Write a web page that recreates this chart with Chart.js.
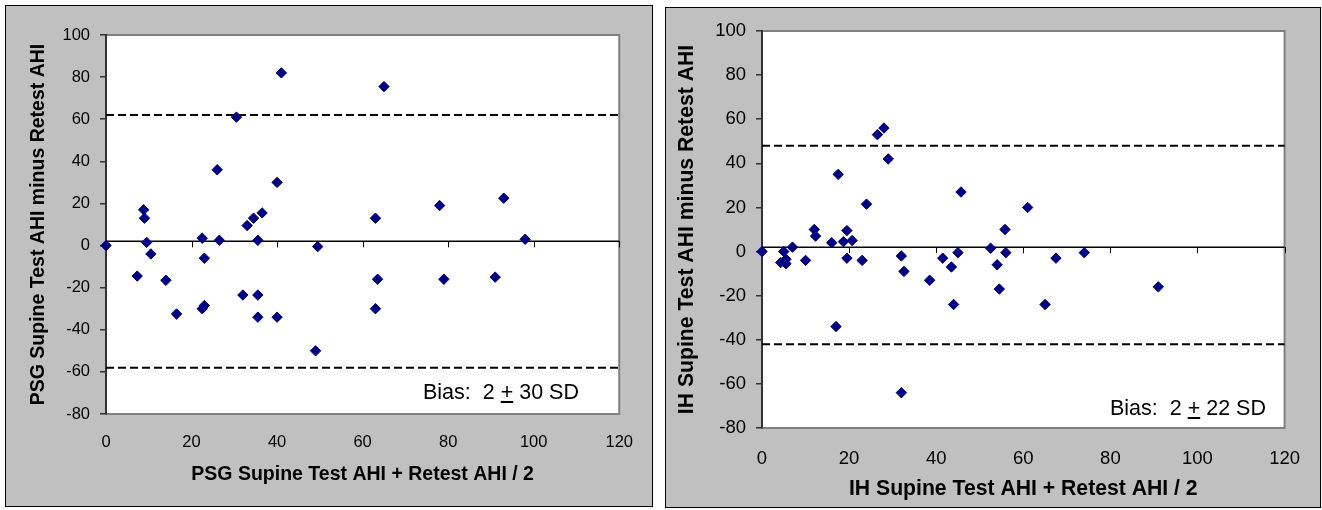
<!DOCTYPE html>
<html>
<head>
<meta charset="utf-8">
<script src="https://cdn.jsdelivr.net/npm/chart.js@4/dist/chart.umd.min.js"></script>
<style>
  body { margin: 0; background: #fff; width: 1322px; height: 510px; position: relative; overflow: hidden; }
  .panel { position: absolute; box-sizing: border-box; border: 1px solid #000; background: #c0c0c0; }
  .panel canvas { position: absolute; left: 0; top: 0; }
  .bias { position: absolute; font: 21.5px 'Liberation Sans', Arial, sans-serif; line-height: 1; white-space: pre; color: #000; }
</style>
</head>
<body>
<div class="panel" style="left:5px; top:5px; width:648px; height:502px;">
  <canvas id="psgChart" width="646" height="500"></canvas>
</div>
<div class="bias" style="left:423px; top:382px;">Bias:  2 <u>+</u> 30 SD</div>

<div class="panel" style="left:665px; top:7px; width:656px; height:501px;">
  <canvas id="ihChart" width="654" height="499"></canvas>
</div>
<div class="bias" style="left:1110px; top:398px;">Bias:  2 <u>+</u> 22 SD</div>

<script>
// axis ticks (same on both panels)
const xTicks = [0, 20, 40, 60, 80, 100, 120];
const yTicks = [-80, -60, -40, -20, 0, 20, 40, 60, 80, 100];

// PSG supine: mean of test/retest vs difference
const psgMean = [0, 41, 65, 30.5, 26, 40, 8.8, 9, 9.5, 10.5, 7.3, 14, 16.5, 22.5, 23, 22.5, 23, 26.5,
  33, 34.5, 36.5, 35.5, 32, 35.5, 35.5, 40, 49.5, 49, 63, 63.5, 63, 78, 79, 91, 93, 98];
const psgDiff = [0, 82, 75.5, 61, 36, 30, 17, 13, 1.5, -4, -14.5, -16.5, -32.5, 3.5, -6, -30, -28.5, 2.5,
  9.5, 13, 15.5, 2.5, -23.5, -23.5, -34, -34, -0.5, -50, 13, -16, -30, 19, -16, -15, 22.5, 3];
const psgBias = 2;
const psgLimits = [62, -58];

// IH supine
const ihMean = [0, 4.3, 5, 5.5, 5.5, 7, 10, 12, 12.3, 17.5, 16, 17, 18.7, 19.5, 19.5, 20.7, 23, 24,
  26.5, 28, 29, 32, 32.6, 32, 38.5, 41.5, 43.5, 44, 45, 45.7, 52.5, 54, 54.5, 55.8, 56, 61, 65, 67.5, 74, 91];
const ihDiff = [0, -5, 0, -3.5, -5.5, 2, -4, 10, 7, 35, 4, -34, 4.5, 9.5, -3, 5, -4, 21.5,
  53, 56, 42, -2, -9, -64, -13, -3, -7, -24, -0.5, 27, 1.5, -6, -17, 10, -0.5, 20, -24, -3, -0.5, -16];
const ihBias = 2;
const ihLimits = [48, -42];

Chart.defaults.font.family = "'Liberation Sans', Arial, sans-serif";
Chart.defaults.color = '#000';

const plotFrame = {
  id: 'plotFrame',
  beforeDraw(chart) {
    const a = chart.chartArea, c = chart.ctx;
    c.save();
    c.fillStyle = '#fff';
    c.fillRect(a.left, a.top, a.right - a.left, a.bottom - a.top);
    c.strokeStyle = '#808080';
    c.lineWidth = 2;
    c.strokeRect(a.left, a.top, a.right - a.left, a.bottom - a.top);
    c.restore();
  },
  beforeDatasetsDraw(chart, args, opts) {
    // excel style: the x axis crosses at the bias, ticks hang below it
    const x = chart.scales.x, y = chart.scales.y, c = chart.ctx;
    const yp = y.getPixelForValue(opts.crossAt);
    c.save();
    c.strokeStyle = '#000';
    c.lineWidth = 1;
    x.ticks.forEach(t => {
      if (t.value === xTicks[0]) return;
      const xp = Math.round(x.getPixelForValue(t.value)) + 0.5;
      c.beginPath();
      c.moveTo(xp, yp);
      c.lineTo(xp, yp + 6);
      c.stroke();
    });
    c.restore();
  }
};

function hline(value, dash) {
  return {
    type: 'line',
    data: [{x: xTicks[0], y: value}, {x: xTicks[xTicks.length - 1], y: value}],
    borderColor: '#000',
    borderWidth: dash ? 2 : 1.5,
    borderDash: dash ? [8, 4] : [],
    pointRadius: 0,
    clip: false
  };
}

function makeChart(id, means, diffs, bias, limits, lay) {
  const ctx = document.getElementById(id).getContext('2d');
  return new Chart(ctx, {
    type: 'scatter',
    data: {
      datasets: [
        {
          data: means.map((m, i) => ({x: m, y: diffs[i]})),
          pointStyle: 'rectRot',
          pointRadius: 5.2,
          backgroundColor: '#000080',
          borderColor: '#000080',
          borderWidth: 1,
          clip: false
        },
        hline(bias, false),
        hline(limits[0], true),
        hline(limits[1], true)
      ]
    },
    options: {
      responsive: false,
      animation: false,
      layout: { padding: lay.padding },
      plugins: {
        legend: { display: false },
        tooltip: { enabled: false },
        plotFrame: { crossAt: bias }
      },
      scales: {
        x: {
          type: 'linear',
          min: xTicks[0],
          max: xTicks[xTicks.length - 1],
          afterBuildTicks: s => { s.ticks = xTicks.map(v => ({value: v})); },
          afterFit: s => { s.height = lay.xHeight; },
          grid: { display: false, drawTicks: false },
          border: { display: false },
          ticks: { font: { size: lay.tickSize }, padding: lay.xTickPad, maxRotation: 0 },
          title: {
            display: true,
            text: lay.xTitle,
            font: { size: lay.titleSize, weight: 'bold', lineHeight: 1.2 },
            padding: { top: 0, bottom: lay.xTitlePad }
          }
        },
        y: {
          min: yTicks[0],
          max: yTicks[yTicks.length - 1],
          afterBuildTicks: s => { s.ticks = yTicks.map(v => ({value: v})); },
          afterFit: s => { s.width = lay.yWidth; },
          grid: { drawOnChartArea: false, drawTicks: true, tickLength: 6, color: '#333', lineWidth: 1.5 },
          border: { display: true, color: '#333', width: 2 },
          ticks: { font: { size: lay.tickSize }, padding: 10 },
          title: {
            display: true,
            text: lay.yTitle,
            font: { size: lay.titleSize, weight: 'bold', lineHeight: 1.2 },
            padding: { top: lay.yTitlePad, bottom: 0 }
          }
        }
      }
    },
    plugins: [plotFrame]
  });
}

makeChart('psgChart', psgMean, psgDiff, psgBias, psgLimits, {
  padding: { left: 0, top: 29, right: 28, bottom: 0 },
  xHeight: 92, yWidth: 100, tickSize: 16.5, titleSize: 19.5,
  xTickPad: 19, xTitlePad: 20, yTitlePad: 21,
  xTitle: 'PSG Supine Test AHI + Retest AHI / 2',
  yTitle: 'PSG Supine Test AHI minus Retest AHI'
});

makeChart('ihChart', ihMean, ihDiff, ihBias, ihLimits, {
  padding: { left: 0, top: 23, right: 22, bottom: 0 },
  xHeight: 79, yWidth: 96, tickSize: 18.5, titleSize: 21.2,
  xTickPad: 20, xTitlePad: 5, yTitlePad: 8,
  xTitle: 'IH Supine Test AHI + Retest AHI / 2',
  yTitle: 'IH Supine Test AHI minus Retest AHI'
});
</script>
</body>
</html>
